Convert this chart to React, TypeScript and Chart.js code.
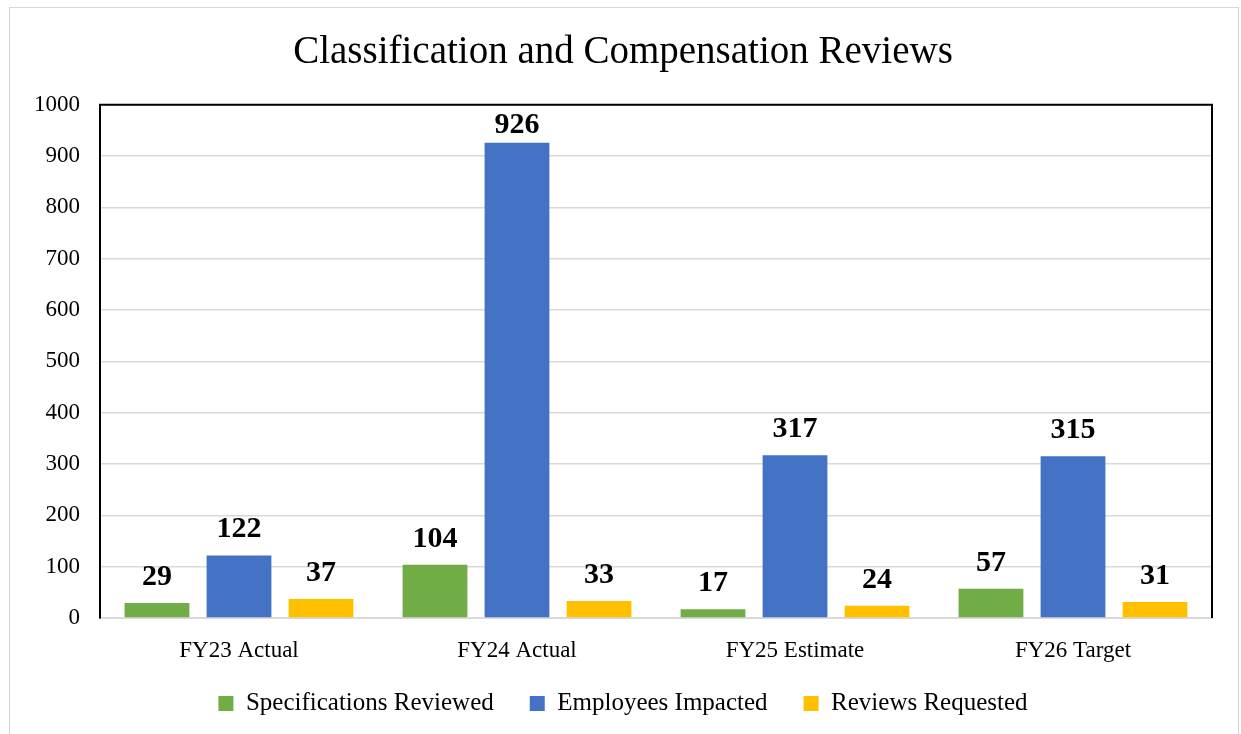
import React, { useEffect, useRef } from "react";
import { Chart, registerables } from "chart.js";

Chart.register(...registerables);

const categories = ["FY23 Actual", "FY24 Actual", "FY25 Estimate", "FY26 Target"];
const specificationsReviewed = [29, 104, 17, 57];
const employeesImpacted = [122, 926, 317, 315];
const reviewsRequested = [37, 33, 24, 31];
const seriesNames = ["Specifications Reviewed", "Employees Impacted", "Reviews Requested"];
const seriesColors = ["#70AD47", "#4472C4", "#FFC000"];
const yMin = 0;
const yMax = 1000;
const yStep = 100;
const titleText = "Classification and Compensation Reviews";

const FONT = "'Liberation Serif', 'Times New Roman', serif";

const valueLabels = {
  id: "valueLabels",
  afterDatasetsDraw(chart: any) {
    const ctx = chart.ctx;
    const top = chart.chartArea.top;
    ctx.save();
    ctx.font = `bold 30px ${FONT}`;
    ctx.fillStyle = "#000";
    ctx.textAlign = "center";
    ctx.textBaseline = "alphabetic";
    chart.data.datasets.forEach((ds: any, i: number) => {
      const meta = chart.getDatasetMeta(i);
      meta.data.forEach((bar: any, j: number) => {
        const y = Math.max(bar.y - 18, top + 28);
        ctx.fillText(String(ds.data[j]), bar.x, y);
      });
    });
    ctx.restore();
  },
};

const frameLines = {
  id: "frameLines",
  afterDraw(chart: any) {
    const { left, right, top, bottom } = chart.chartArea;
    const ctx = chart.ctx;
    ctx.save();
    ctx.strokeStyle = "#000";
    ctx.lineWidth = 2;
    ctx.beginPath();
    ctx.moveTo(left, bottom);
    ctx.lineTo(left, top);
    ctx.lineTo(right, top);
    ctx.lineTo(right, bottom);
    ctx.stroke();
    ctx.restore();
  },
};

// move the legend row up a little so it sits in the x-axis label gap like the reference
const legendShift = {
  id: "legendShift",
  afterLayout(chart: any) {
    const l = chart.legend;
    if (l) {
      l.top -= 8;
      l.bottom -= 8;
    }
  },
};

export default function App() {
  const canvasRef = useRef<HTMLCanvasElement | null>(null);

  useEffect(() => {
    if (!canvasRef.current) return;
    const chart = new Chart(canvasRef.current, {
      type: "bar",
      data: {
        labels: categories,
        datasets: [specificationsReviewed, employeesImpacted, reviewsRequested].map((d, i) => ({
          label: seriesNames[i],
          data: d,
          backgroundColor: seriesColors[i],
          borderWidth: 0,
          categoryPercentage: 0.885,
          barPercentage: 0.79,
        })),
      },
      options: {
        animation: false,
        responsive: false,
        maintainAspectRatio: false,
        layout: { padding: { left: 34, right: 29, top: 0, bottom: 0 } },
        plugins: {
          title: {
            display: true,
            text: titleText,
            color: "#000",
            font: { family: FONT, size: 39, weight: "normal" },
            padding: { top: 29, bottom: 29 },
          },
          legend: {
            position: "bottom",
            labels: {
              color: "#000",
              font: { family: FONT, size: 25 },
              boxWidth: 15,
              boxHeight: 15,
              padding: 36,
            },
          },
          tooltip: { enabled: false },
        },
        scales: {
          x: {
            afterFit(scale: any) {
              scale.height = 45;
            },
            grid: { display: false },
            border: { display: true, color: "#d9d9d9", width: 2 },
            ticks: { color: "#000", font: { family: FONT, size: 23 }, padding: 11 },
          },
          y: {
            min: yMin,
            max: yMax,
            afterFit(scale: any) {
              scale.width = 66;
            },
            grid: { color: "#d9d9d9", lineWidth: 1.5, drawTicks: false },
            border: { display: true, color: "#000", width: 2 },
            ticks: {
              stepSize: yStep,
              color: "#000",
              font: { family: FONT, size: 23 },
              padding: 20,
              callback: (v: any) => String(v),
            },
          },
        },
      },
      plugins: [valueLabels, frameLines, legendShift],
    });
    return () => chart.destroy();
  }, []);

  return (
    <div style={{ position: "absolute", left: 0, top: 0, width: 1241, height: 734, overflow: "hidden", background: "#fff" }}>
      <div
        style={{
          position: "absolute",
          left: 9,
          top: 7,
          width: 1230,
          height: 760,
          border: "1px solid #d9d9d9",
          boxSizing: "border-box",
        }}
      />
      <canvas
        ref={canvasRef}
        width={1241}
        height={734}
        style={{ position: "absolute", left: 0, top: 0, width: 1241, height: 734 }}
      />
    </div>
  );
}
